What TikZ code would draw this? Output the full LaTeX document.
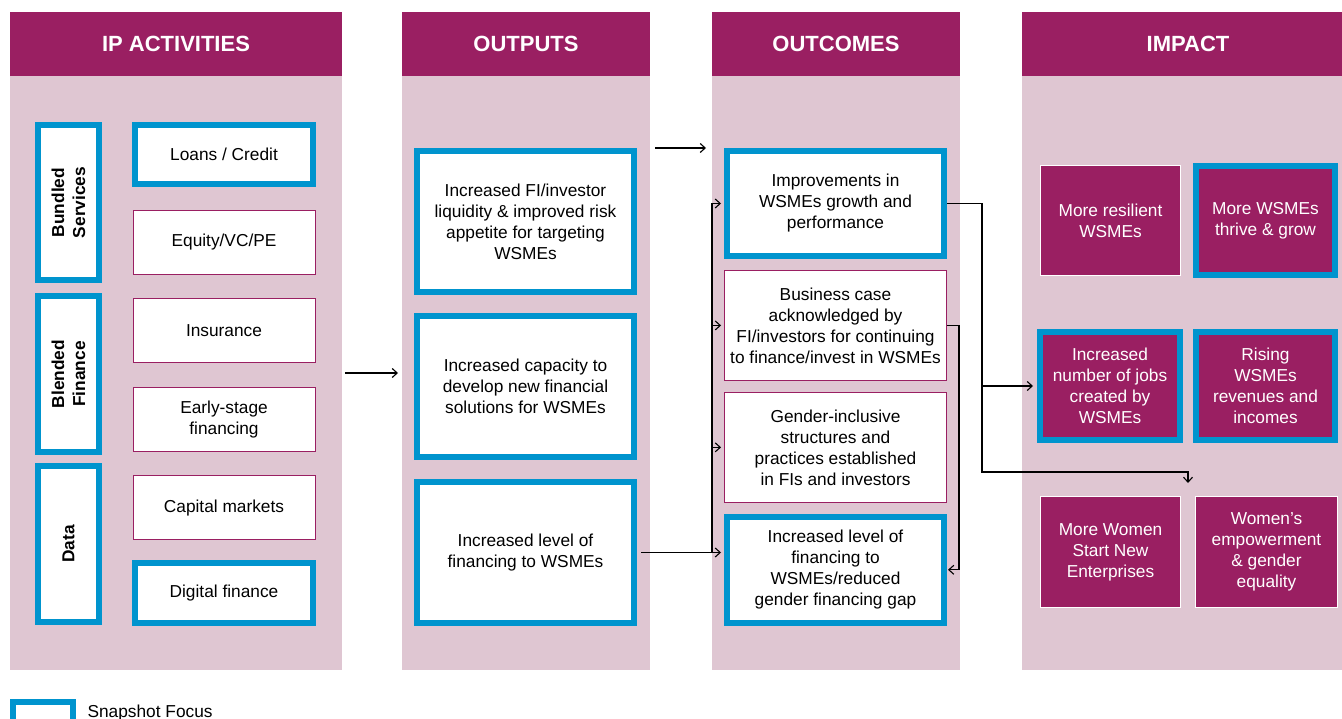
\documentclass[tikz,border=0pt]{standalone}
\usepackage{fontspec}
\setmainfont{Liberation Sans}
\usetikzlibrary{positioning}
\usetikzlibrary{calc}
\usetikzlibrary{arrows.meta}

\definecolor{plum}{RGB}{154,31,98}
\definecolor{blush}{RGB}{223,198,210}
\definecolor{snapblue}{RGB}{0,148,206}

\begin{document}
\begin{tikzpicture}[x=1pt, y=-1pt, line width=1.1pt,
    >={Straight Barb[length=5pt,width=9pt]},
    body/.style={font=\fontsize{17.3}{21}\selectfont, align=center, inner sep=2pt},
    colhead/.style={fill=plum, text=white, outer sep=0pt, minimum height=64,
      font=\fontsize{22}{26}\selectfont\bfseries},
    colbody/.style={fill=blush, outer sep=0pt, minimum height=594},
    focus/.style={body, draw=snapblue, line width=6pt, fill=white},
    plain/.style={body, draw=plum, line width=0.9pt, fill=white},
    effect/.style={body, fill=plum, text=white, draw=white, line width=1pt},
    effectfocus/.style={effect, draw=snapblue, line width=6pt},
    strand/.style={focus, rotate=90, font=\fontsize{17.3}{21}\selectfont\bfseries}]

  \useasboundingbox (0,0) rectangle (1342,719);

  % column headers and backgrounds
  \node[colhead, minimum width=332] (hdact) at (176,44) {IP ACTIVITIES};
  \node[colbody, minimum width=332, below=0pt of hdact] (bdact) {};
  \node[colhead, minimum width=248] (hdout) at (526,44) {OUTPUTS};
  \node[colbody, minimum width=248, below=0pt of hdout] (bdout) {};
  \node[colhead, minimum width=248] (hdoc) at (836,44) {OUTCOMES};
  \node[colbody, minimum width=248, below=0pt of hdoc] (bdoc) {};
  \node[colhead, minimum width=332] (hdimp) at (1188,44) {IMPACT};
  \node[colbody, minimum width=332, below=0pt of hdimp] (bdimp) {};

  % activities
  \node[strand, minimum width=155, minimum height=61] (bundled) at (68.5,202.5) {Bundled\\Services};
  \node[strand, minimum width=156, minimum height=61] (blended) at (68.5,374) {Blended\\Finance};
  \node[strand, minimum width=156, minimum height=61] (datastrand) at (68.5,544) {Data};

  \node[focus, minimum width=178, minimum height=59] (loans) at (224,154.5) {Loans / Credit};
  \node[plain, minimum width=182, minimum height=64] (equity) at (224,242) {Equity/VC/PE};
  \node[plain, minimum width=182, minimum height=64, below=24pt of equity] (insurance) {Insurance};
  \node[plain, minimum width=182, minimum height=64, below=24pt of insurance] (earlystage) {Early-stage\\financing};
  \node[plain, minimum width=182, minimum height=64, below=23pt of earlystage] (capital) {Capital markets};
  \node[focus, minimum width=178, minimum height=60] (digital) at (224,593) {Digital finance};

  % outputs
  \node[focus, minimum width=217, minimum height=141] (out1) at (525.5,221.5)
    {Increased FI/investor\\liquidity \& improved risk\\appetite for targeting\\WSMEs};
  \node[focus, minimum width=217, minimum height=141, below=18pt of out1] (out2)
    {Increased capacity to\\develop new financial\\solutions for WSMEs};
  \node[focus, minimum width=217, minimum height=141, below=19pt of out2] (out3)
    {Increased level of\\financing to WSMEs};

  % outcomes
  \node[focus, minimum width=217, minimum height=105] (oc1) at (835.5,203.5)
    {Improvements in\\WSMEs growth and\\performance};
  \node[plain, minimum width=222, minimum height=110, below=11pt of oc1] (oc2)
    {Business case\\acknowledged by\\FI/investors for continuing\\to finance/invest in WSMEs};
  \node[plain, minimum width=222, minimum height=110, below=11pt of oc2] (oc3)
    {Gender-inclusive\\structures and\\practices established\\in FIs and investors};
  \node[focus, minimum width=217, minimum height=106, below=11pt of oc3] (oc4)
    {Increased level of\\financing to\\WSMEs/reduced\\gender financing gap};

  % impact
  \node[effect, minimum width=140, minimum height=110] (im1) at (1110.5,220.5) {More resilient\\WSMEs};
  \node[effectfocus, minimum width=139, minimum height=109] (im2) at (1265.5,220.5) {More WSMEs\\thrive \& grow};
  \node[effectfocus, minimum width=140, minimum height=108] (im3) at (1110,386) {Increased\\number of jobs\\created by\\WSMEs};
  \node[effectfocus, minimum width=139, minimum height=108] (im4) at (1265.5,386) {Rising\\WSMEs\\revenues and\\incomes};
  \node[effect, minimum width=140, minimum height=111] (im5) at (1110.5,552) {More Women\\Start New\\Enterprises};
  \node[effect, minimum width=142, minimum height=111] (im6) at (1266.5,552) {Women's\\empowerment\\\& gender\\equality};

  % connectors
  \draw[->] ($(bdact.east)+(3,0)$) -- ($(bdout.west)+(-4,0)$);
  \draw[->] ($(bdout.east |- out1.north)+(5,0)$) -- ($(bdoc.west |- out1.north)+(-6,0)$);

  \draw[->] ($(out3.east)+(4,0)$) -- ($(oc4.west |- out3.east)+(-3,0)$);
  \draw (bdoc.west |- out3.east) -- (bdoc.west |- oc1.west);
  \foreach \o in {oc1,oc2,oc3}
    \draw[->] (bdoc.west |- \o.west) -- ($(\o.west)+(-3,0)$);

  \coordinate (hub) at (982,472);
  \coordinate (drop) at (1188,483);
  \draw[->] (oc1.east) -| (hub) -- (hub -| drop) -- (drop);
  \draw[->] (hub |- im3.west) -- ($(im3.west)+(-4,0)$);

  \draw[->] (oc2.east) -- ($(oc2.east)+(12,0)$) |- ($(oc4.east)+(1,0)$);

  % legend
  \node[focus, minimum width=60, minimum height=20] (legendbox) at (43,712) {};
  \node[font=\fontsize{17.3}{21}\selectfont, inner sep=0pt, anchor=base west] (legendtext) at (87,717) {Snapshot Focus};
\end{tikzpicture}
\end{document}
